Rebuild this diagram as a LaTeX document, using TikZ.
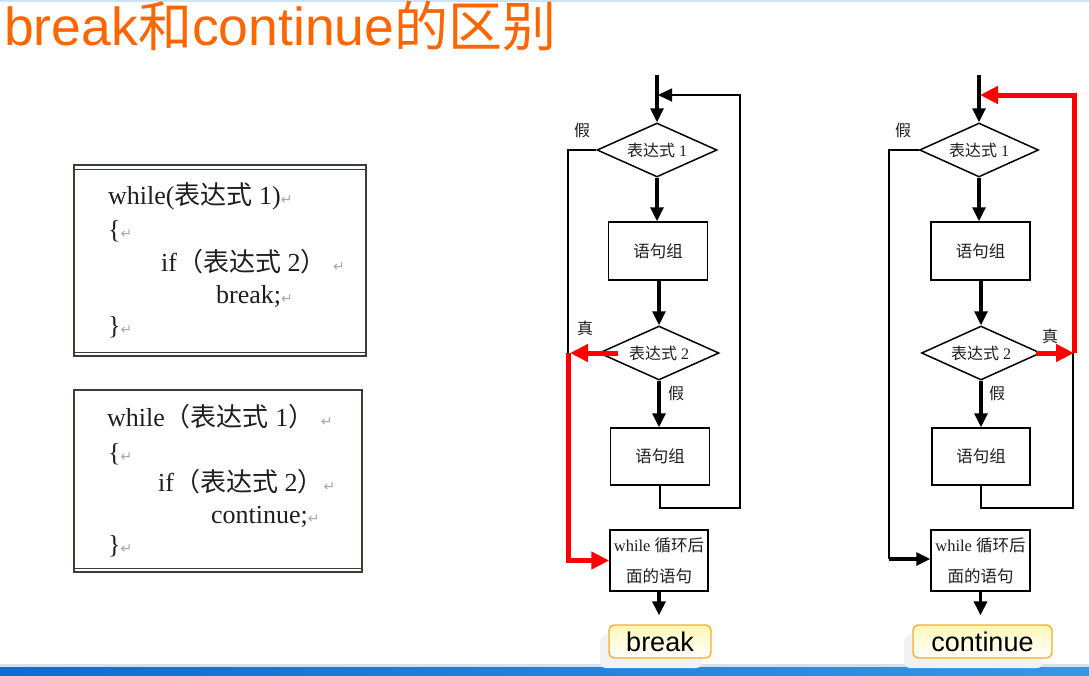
\documentclass[tikz,border=0pt]{standalone}
\usepackage{fontspec}
\setmainfont{Liberation Serif}
\newfontfamily\cjk{Noto Sans CJK SC}
\newfontfamily\arial{Liberation Sans}
\newfontfamily\symfont{DejaVu Sans}
\usepackage{xcolor}
\usetikzlibrary{shapes.geometric, arrows.meta, positioning, shadows}
\definecolor{cTitle}{RGB}{255,102,0}
\definecolor{cRule}{RGB}{55,65,55}
\definecolor{cText}{RGB}{30,30,30}
\definecolor{cTagEdge}{RGB}{255,170,40}
\definecolor{cTagTop}{RGB}{255,248,185}
\definecolor{cBarL}{RGB}{10,110,210}
\definecolor{cBarR}{RGB}{55,150,230}
\definecolor{cTopLine}{RGB}{205,228,246}
\newcommand{\zh}[1]{{\cjk #1}}
\newcommand{\bigzh}[1]{\raisebox{-1pt}{\cjk\fontsize{54}{54}\selectfont #1}}
\newcommand{\ret}{{\symfont\fontsize{14}{14}\selectfont\color{gray!70}↵}}
\tikzset{
	codeline/.style ={anchor=base west, inner sep=0pt, text=cText, font=\fontsize{26}{26}\selectfont},
	% flow chart styles
	decision/.style ={diamond, aspect=2.2, draw=black, line width=1.5pt, minimum width=120pt, minimum height=54pt, inner sep=0pt, text=cText, font=\fontsize{16}{16}\selectfont},
	process/.style  ={rectangle, draw=black, line width=1.5pt, minimum width=99pt, minimum height=58pt, inner sep=0pt, align=center, text=cText, font=\fontsize{16.5}{31}\selectfont},
	lbl/.style      ={inner sep=0pt, text=cText, font=\fontsize{16}{16}\selectfont},
	tag/.style      ={rectangle, rounded corners=6pt, draw=cTagEdge, line width=1.3pt, top color=cTagTop, bottom color=white, minimum height=33pt, inner sep=0pt, font=\arial\fontsize{27}{27}\selectfont,
		drop shadow={shadow xshift=-9pt, shadow yshift=-10pt, fill=black!5, opacity=1}},
	flowarrow/.style={-{Triangle[length=14pt, width=13pt]}, line width=3.2pt},
	thinline/.style ={line width=1.5pt},
	loopback/.style ={-{Triangle[length=14pt, width=13pt]}, line width=1.5pt},
	redarrow/.style ={-{Triangle[length=18pt, width=17pt]}, red, line width=5pt},
}
\begin{document}
\begin{tikzpicture}[x=1pt, y=-1pt]
\useasboundingbox (0,0) rectangle (1089,675);
\fill[cTopLine] (0,0) rectangle (1089,2);
\fill[cTopLine] (0,664) rectangle (1089,667);
\fill[left color=cBarL, right color=cBarR] (0,667) rectangle (1089,675);

\node[anchor=base west, inner sep=0pt, text=cTitle, font=\fontsize{53.5}{53.5}\selectfont] (title) at (4,45) {\arial break\bigzh{和}continue\bigzh{的区别}};

% code boxes
\draw[cRule, line width=1.2pt] (74,165) rectangle (366,356);
\draw[cRule, line width=1pt] (74,169) -- (366,169) (74,352) -- (366,352);
\node[codeline] (bw1) at (108,204) {while(\zh{表达式}~1)\ret};
\node[codeline] (bw2) at (108,238) {\{\ret};
\node[codeline] (bw3) at (161,271) {if\zh{（表达式}~2\zh{）}~\ret};
\node[codeline] (bw4) at (216,303) {break;\ret};
\node[codeline] (bw5) at (108,334) {\}\ret};

\draw[cRule, line width=1.2pt] (74,390) rectangle (362,572);
\draw[cRule, line width=2.2pt] (74,390) -- (362,390);
\draw[cRule, line width=1pt] (74,568) -- (362,568);
\node[codeline] (cw1) at (107,426) {while\zh{（表达式}~1\zh{）}~\ret};
\node[codeline] (cw2) at (108,461) {\{\ret};
\node[codeline] (cw3) at (158,491) {if\zh{（表达式}~2\zh{）}\ret};
\node[codeline] (cw4) at (211,523) {continue;\ret};
\node[codeline] (cw5) at (108,553) {\}\ret};

% break chart
\node[decision] (bcond1) at (657,150) {\zh{表达式}~1};
\node[process] (bgroup1) at (658,251) {\zh{语句组}};
\node[decision] (bcond2) at (659,353) {\zh{表达式}~2};
\node[process, minimum height=57pt] (bgroup2) at (660,456.5) {\zh{语句组}};
\node[process, minimum width=98pt, minimum height=61pt] (bafter) at (659,560.5) {while~\zh{循环后}\\\zh{面的语句}};
\node[tag, minimum width=102pt] (btag) at (660,641.5) {break};
\node[lbl] (bno1) at (582,130) {\zh{假}};
\node[lbl] (byes2) at (585,328) {\zh{真}};
\node[lbl] (bno2) at (676,393) {\zh{假}};
\coordinate (btop) at (657,75);
\coordinate (bjoin) at (658,95);
\coordinate (bright) at (740,95);
\coordinate (bleft) at (568,150);
\coordinate (bturn) at (568,353);
\draw[flowarrow] (btop) -- (bcond1.north);
\draw[flowarrow] (bcond1.south) -- (bcond1.south |- bgroup1.north);
\draw[flowarrow] (bgroup1.south -| bcond2.north) -- (bcond2.north);
\draw[flowarrow] (bcond2.south) -- (bcond2.south |- bgroup2.north);
\draw[flowarrow] (bafter.south) -- ([yshift=9pt]bafter.south |- btag.north);
\draw[loopback] (bgroup2.south) -- ++(0,22) -| (bright) -- (bjoin);
\draw[thinline] (bcond1.west) -- (bleft) -- (bturn);
\draw[redarrow] ([xshift=20pt]bcond2.west) -- ([xshift=2pt]bturn);
\draw[redarrow] (bturn) |- (bafter.west);

% continue chart
\node[decision, minimum width=119pt] (ccond1) at (979,150) {\zh{表达式}~1};
\node[process] (cgroup1) at (980.5,251) {\zh{语句组}};
\node[decision, minimum width=119pt] (ccond2) at (981,353) {\zh{表达式}~2};
\node[process, minimum width=98pt, minimum height=57pt] (cgroup2) at (981,456.5) {\zh{语句组}};
\node[process, minimum height=61pt] (cafter) at (980.5,560.5) {while~\zh{循环后}\\\zh{面的语句}};
\node[tag, minimum width=139pt] (ctag) at (982.5,641.5) {continue};
\node[lbl] (cno1) at (903,130) {\zh{假}};
\node[lbl] (cyes2) at (1050,336) {\zh{真}};
\node[lbl] (cno2) at (997,393) {\zh{假}};
\coordinate (ctop) at (979,75);
\coordinate (cjoin) at (980,95);
\coordinate (cright) at (1074,95);
\coordinate (cturn) at (1074,353);
\coordinate (cleft) at (889,150);
\coordinate (ccorner) at (889,559);
\draw[flowarrow] (ctop) -- (ccond1.north);
\draw[flowarrow] (ccond1.south) -- (ccond1.south |- cgroup1.north);
\draw[flowarrow] (cgroup1.south -| ccond2.north) -- (ccond2.north);
\draw[flowarrow] (ccond2.south) -- (ccond2.south |- cgroup2.north);
\draw[flowarrow] (cafter.south) -- ([yshift=9pt]cafter.south |- ctag.north);
\draw[thinline] (cgroup2.south) -- ++(0,22) -| ([xshift=-1pt]cturn);
\draw[thinline] (ccond1.west) -- (cleft) -- (ccorner);
\draw[flowarrow] (ccorner) -- (ccorner -| cafter.west);
\draw[redarrow] ([xshift=-5pt]ccond2.east) -- (cturn);
\draw[redarrow] (cturn) -- (cright) -- (cjoin);
\end{tikzpicture}
\end{document}
